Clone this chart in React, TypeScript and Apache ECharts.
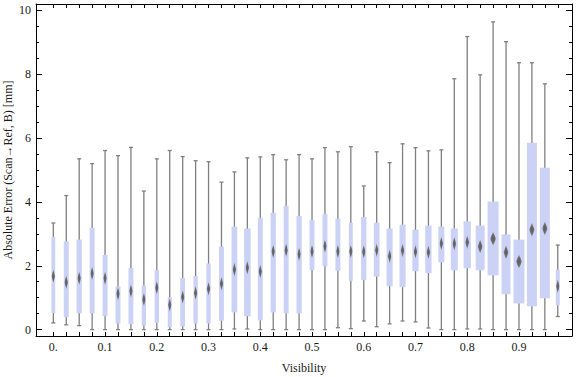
import React, { useEffect, useRef } from "react";
import * as echarts from "echarts";

// Box positions (visibility) and five-number summaries
const visibility = [
  0, 0.025, 0.05, 0.075, 0.1, 0.125, 0.15, 0.175, 0.2, 0.225,
  0.25, 0.275, 0.3, 0.325, 0.35, 0.375, 0.4, 0.425, 0.45, 0.475,
  0.5, 0.525, 0.55, 0.575, 0.6, 0.625, 0.65, 0.675, 0.7, 0.725,
  0.75, 0.775, 0.8, 0.825, 0.85, 0.875, 0.9, 0.925, 0.95, 0.975,
];
const whiskerLow = [
  0.21, 0.15, 0.125, 0, 0, 0, 0, 0, 0, 0,
  0, 0, 0, 0, 0.02, 0.02, 0, 0, 0, 0,
  0, 0, 0.06, 0.03, 0.27, 0.09, 0.18, 0.27, 0.24, 0.05,
  0, 0, 0.02, 0.02, 0, 0, 0, 0, 0, 0.41,
];
const quartile1 = [
  0.52, 0.39, 0.51, 0.51, 0.42, 0.19, 0.17, 0.125, 0.21, 0.07,
  0.1, 0.19, 0.19, 0.28, 0.54, 0.42, 0.29, 0.54, 0.51, 0.51,
  1.87, 1.98, 1.84, 1.53, 1.55, 1.66, 1.36, 1.33, 1.83, 1.77,
  2.11, 1.86, 1.92, 1.86, 1.7, 1.11, 0.82, 0.73, 0.98, 0.76,
];
const median = [
  1.67, 1.48, 1.61, 1.76, 1.61, 1.12, 1.21, 0.94, 1.31, 0.77,
  1.02, 1.15, 1.28, 1.44, 1.88, 1.94, 1.82, 2.45, 2.49, 2.36,
  2.45, 2.61, 2.45, 2.45, 2.44, 2.49, 2.3, 2.48, 2.44, 2.42,
  2.7, 2.69, 2.74, 2.6, 2.85, 2.42, 2.13, 3.13, 3.17, 1.36,
];
const quartile3 = [
  2.91, 2.76, 2.82, 3.19, 2.34, 1.35, 1.93, 1.38, 1.87, 1.02,
  1.62, 1.68, 2.07, 2.6, 3.23, 3.17, 3.5, 3.66, 3.88, 3.56,
  3.44, 3.63, 3.47, 3.34, 3.53, 3.35, 3.17, 3.29, 3.13, 3.26,
  3.23, 3.17, 3.39, 3.26, 4.01, 2.98, 2.82, 5.85, 5.07, 1.88,
];
const whiskerHigh = [
  3.34, 4.2, 5.35, 5.2, 5.61, 5.45, 5.71, 4.34, 5.35, 5.61,
  5.42, 5.29, 5.26, 4.62, 4.94, 5.38, 5.41, 5.48, 5.32, 5.48,
  5.35, 5.7, 5.57, 5.73, 4.5, 5.57, 5.23, 5.82, 5.7, 5.6,
  5.63, 7.86, 9.18, 7.98, 9.64, 9.02, 8.36, 8.36, 7.7, 2.65,
];
// relative box widths (fraction of the widest box)
const relWidth = [
  0.34, 0.45, 0.48, 0.45, 0.45, 0.45, 0.45, 0.39, 0.39, 0.36,
  0.43, 0.39, 0.39, 0.45, 0.52, 0.6, 0.45, 0.48, 0.45, 0.48,
  0.45, 0.45, 0.45, 0.36, 0.48, 0.52, 0.55, 0.55, 0.57, 0.57,
  0.55, 0.64, 0.66, 0.82, 1.0, 0.82, 1.0, 0.91, 0.91, 0.36,
];
const xTickValues = visibility;
const xLabelValues = [0, 0.1, 0.2, 0.3, 0.4, 0.5, 0.6, 0.7, 0.8, 0.9];
const yMajorValues = [0, 2, 4, 6, 8, 10];
const yMinorValues = [0.5, 1, 1.5, 2.5, 3, 3.5, 4.5, 5, 5.5, 6.5, 7, 7.5, 8.5, 9, 9.5];

const FONT = "'Liberation Serif', 'Times New Roman', serif";
const MAX_BOX_PX = 11;

export default function App() {
  const ref = useRef<HTMLDivElement>(null);
  useEffect(() => {
    if (!ref.current) return;
    const chart = echarts.init(ref.current, undefined, { renderer: "svg" });
    const data = visibility.map((v, i) => [
      v, whiskerLow[i], quartile1[i], median[i], quartile3[i], whiskerHigh[i], relWidth[i],
    ]);
    const xMin = -0.0335, xMax = 1.0025, yMin = -0.2, yMax = 10.2;
    const gridBox = { left: 36, right: 4, top: 4, bottom: 41, containLabel: false, outerBoundsMode: "none" };
    const axisLine = { show: true, onZero: false, lineStyle: { color: "#000", width: 1 } };
    const noLine = { show: false, onZero: false };
    const label = { color: "#1a1a1a", fontFamily: FONT, fontSize: 12 };
    const fmtX = (v: number) => (Math.abs(v) < 1e-9 ? "0." : (Math.round(v * 10) / 10).toString());
    const tick = (len: number, vals: number[]) => ({
      show: true, inside: true, length: len, customValues: vals, lineStyle: { color: "#000", width: 1 },
    });
    const hiddenX = (gridIndex: number) => ({
      type: "value", gridIndex, min: xMin, max: xMax, show: false, axisLine: noLine,
    });
    chart.setOption({
      animation: false,
      grid: [gridBox, gridBox, gridBox, gridBox],
      xAxis: [
        {
          type: "value", gridIndex: 0, position: "bottom", min: xMin, max: xMax,
          axisLine, splitLine: { show: false },
          axisTick: tick(4, xTickValues),
          axisLabel: { ...label, margin: 5, customValues: xLabelValues, formatter: fmtX },
          name: "Visibility", nameLocation: "middle", nameGap: 26, nameMoveOverlap: false,
          nameTextStyle: { ...label },
        },
        {
          type: "value", gridIndex: 1, position: "top", min: xMin, max: xMax,
          axisLine, splitLine: { show: false },
          axisTick: tick(4, xTickValues),
          axisLabel: { show: false, customValues: xLabelValues },
        },
        hiddenX(2),
        hiddenX(3),
      ],
      yAxis: [
        {
          type: "value", gridIndex: 0, position: "left", min: yMin, max: yMax,
          axisLine, splitLine: { show: false },
          axisTick: tick(6, yMajorValues),
          axisLabel: { ...label, margin: 5, customValues: yMajorValues },
          name: "Absolute Error (Scan\u2192Ref, B) [mm]", nameLocation: "middle", nameGap: 22,
          nameMoveOverlap: false,
          nameTextStyle: { ...label },
        },
        {
          type: "value", gridIndex: 1, position: "right", min: yMin, max: yMax,
          axisLine, splitLine: { show: false },
          axisTick: tick(6, yMajorValues),
          axisLabel: { show: false, customValues: yMajorValues },
        },
        {
          type: "value", gridIndex: 2, position: "left", min: yMin, max: yMax,
          axisLine: noLine, splitLine: { show: false },
          axisTick: tick(3, yMinorValues),
          axisLabel: { show: false, customValues: yMinorValues },
        },
        {
          type: "value", gridIndex: 3, position: "right", min: yMin, max: yMax,
          axisLine: noLine, splitLine: { show: false },
          axisTick: tick(3, yMinorValues),
          axisLabel: { show: false, customValues: yMinorValues },
        },
      ],
      series: [
        {
          type: "custom",
          xAxisIndex: 0,
          yAxisIndex: 0,
          encode: { x: 0, y: [1, 2, 3, 4, 5] },
          data,
          renderItem: (params: any, api: any) => {
            const x = api.value(0);
            const [cx, loY] = api.coord([x, api.value(1)]);
            const q1Y = api.coord([x, api.value(2)])[1];
            const mY = api.coord([x, api.value(3)])[1];
            const q3Y = api.coord([x, api.value(4)])[1];
            const hiY = api.coord([x, api.value(5)])[1];
            const bw = api.value(6) * MAX_BOX_PX;
            const dw = Math.max(3.6, bw * 0.55);
            const dh = 7;
            const wStyle = { stroke: "#7f7f7f", lineWidth: 1.3 };
            return {
              type: "group",
              children: [
                { type: "line", shape: { x1: cx, y1: hiY, x2: cx, y2: loY }, style: wStyle },
                { type: "line", shape: { x1: cx - 2, y1: hiY, x2: cx + 2, y2: hiY }, style: wStyle },
                { type: "line", shape: { x1: cx - 2, y1: loY, x2: cx + 2, y2: loY }, style: wStyle },
                {
                  type: "rect",
                  shape: { x: cx - bw / 2, y: q3Y, width: bw, height: q1Y - q3Y },
                  style: { fill: "#cbd2f5" },
                },
                {
                  type: "polygon",
                  shape: { points: [[cx, mY - dh], [cx + dw / 2, mY], [cx, mY + dh], [cx - dw / 2, mY]] },
                  style: {
                    fill: {
                      type: "radial", x: 0.5, y: 0.5, r: 0.5,
                      colorStops: [
                        { offset: 0, color: "#5a5a5a" },
                        { offset: 0.6, color: "#707070" },
                        { offset: 1, color: "rgba(130,130,150,0.5)" },
                      ],
                    },
                  },
                },
              ],
            };
          },
        },
      ],
    });
    return () => chart.dispose();
  }, []);
  return (
    <div
      ref={ref}
      style={{ position: "fixed", left: 0, top: 0, width: 576, height: 377, background: "#fff" }}
    />
  );
}
